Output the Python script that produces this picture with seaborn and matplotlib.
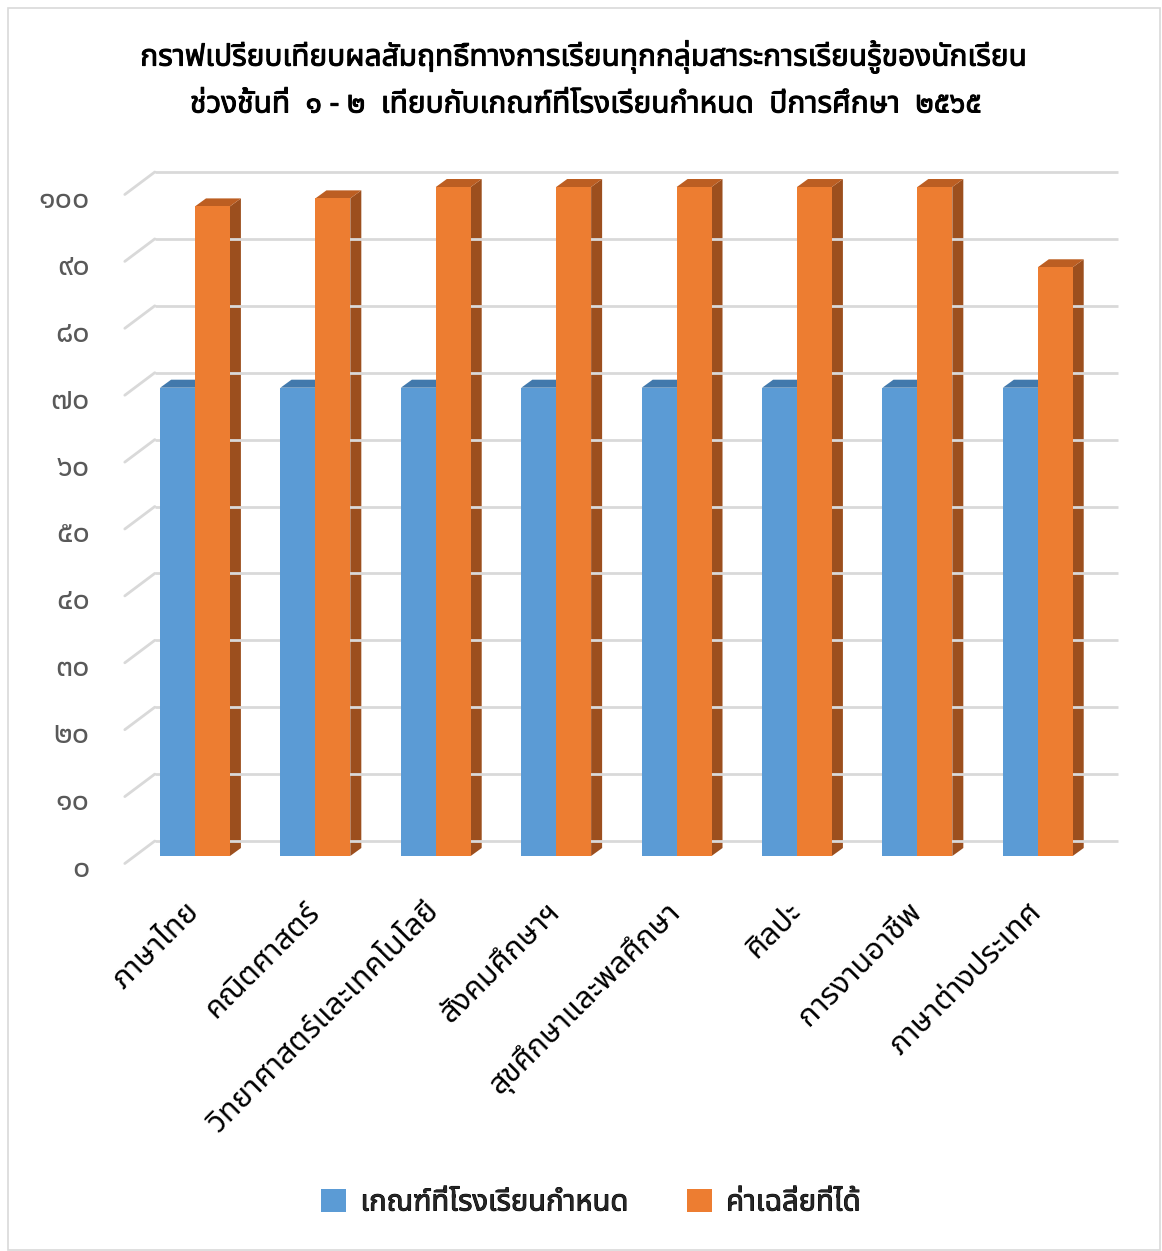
import pandas as pd
import matplotlib
matplotlib.use('Agg')
import matplotlib.pyplot as plt
import matplotlib.transforms as mtransforms
import matplotlib.patheffects as pe
from matplotlib.patches import Polygon, Rectangle
from matplotlib import font_manager
from matplotlib.ft2font import FT2Font
import seaborn as sns

# data
subjects = ['ภาษาไทย', 'คณิตศาสตร์', 'วิทยาศาสตร์และเทคโนโลยี', 'สังคมศึกษาฯ',
            'สุขศึกษาและพลศึกษา', 'ศิลปะ', 'การงานอาชีพ', 'ภาษาต่างประเทศ']
criteria = [70, 70, 70, 70, 70, 70, 70, 70]
average = [97.1, 98.3, 100, 100, 100, 100, 100, 88.0]
series_names = ['เกณฑ์ที่โรงเรียนกำหนด', 'ค่าเฉลี่ยที่ได้']
y_ticks = [0, 10, 20, 30, 40, 50, 60, 70, 80, 90, 100]
y_tick_labels = ['๐', '๑๐', '๒๐', '๓๐', '๔๐', '๕๐', '๖๐', '๗๐', '๘๐', '๙๐', '๑๐๐']
title_lines = ['กราฟเปรียบเทียบผลสัมฤทธิ์ทางการเรียนทุกกลุ่มสาระการเรียนรู้ของนักเรียน',
               'ช่วงชั้นที่  ๑ - ๒  เทียบกับเกณฑ์ที่โรงเรียนกำหนด  ปีการศึกษา  ๒๕๖๕']

front_colors = ['#5B9BD5', '#ED7D31']
top_colors = ['#4279AC', '#BC5E22']
side_colors = ['#3A6A96', '#9C4F1E']


def pick_thai_font():
    prefer = ['Noto Sans Thai', 'Noto Sans Thai UI', 'Sarabun', 'TH Sarabun New', 'Leelawadee UI',
              'Tahoma', 'Loma', 'Garuda', 'Waree', 'Umpush', 'Sawasdee', 'Kinnari', 'Norasi',
              'Laksaman', 'Noto Serif Thai', 'Noto Looped Thai']
    found = {}
    for fe in font_manager.fontManager.ttflist:
        try:
            ft = FT2Font(fe.fname)
            if ft.get_char_index(0x0E01) and ft.get_char_index(0x0E51):
                found.setdefault(fe.name, []).append(fe.weight)
        except Exception:
            pass
    for p in prefer:
        if p in found:
            return p, found[p]
    if found:
        name = sorted(found)[0]
        return name, found[name]
    return 'DejaVu Sans', [400, 700]


thai_font, weights = pick_thai_font()

sns.set_style('white')
plt.rcParams['font.family'] = [thai_font, 'DejaVu Sans']

W, H = 1162, 1251
fig = plt.figure(figsize=(W / 100, H / 100), dpi=100)

# axes = front plane of the bars
x0, x1 = 134.8, 1098.0
y0, y1 = 856.0, 187.0
ax = fig.add_axes([x0 / W, (H - y0) / H, (x1 - x0) / W, (y0 - y1) / H])
ax.set_facecolor('none')

df = pd.DataFrame({
    'subject': subjects * 2,
    'value': criteria + average,
    'series': [series_names[0]] * len(subjects) + [series_names[1]] * len(subjects),
})
sns.barplot(data=df, x='subject', y='value', hue='series', palette=front_colors,
            width=0.58, saturation=1, ax=ax, legend=False, zorder=3,
            edgecolor='none', linewidth=0)
ax.set_xlim(-0.5, len(subjects) - 0.5)
ax.set_ylim(0, 100)
for s in ax.spines.values():
    s.set_visible(False)
ax.set_xlabel('')
ax.set_ylabel('')
ax.set_yticks([])

# back wall grid and side diagonals
back = mtransforms.ScaledTranslation(20 / 100, 15 / 100, fig.dpi_scale_trans)
grid_color = '#D9D9D9'
xl = ax.get_xlim()
for v in y_ticks:
    ax.plot(xl, [v, v], transform=ax.transData + back, color=grid_color, lw=2.0,
            clip_on=False, zorder=1, solid_capstyle='butt')
    px, py = ax.transData.transform((xl[0], v))
    fig.add_artist(plt.Line2D([(px - 10) / W, (px + 20) / W], [(py - 7.5) / H, (py + 15) / H],
                              color=grid_color, lw=2.0, zorder=1))
    ax.text(0, v, y_tick_labels[y_ticks.index(v)],
            transform=mtransforms.blended_transform_factory(ax.transAxes, ax.transData)
            + mtransforms.ScaledTranslation(-45 / 100, -13 / 100, fig.dpi_scale_trans),
            ha='right', va='center', fontsize=22, color='#595959')

# 3d faces of each bar
dx, dy = 11, 8
n = len(subjects)
bars = [p for p in ax.patches if isinstance(p, Rectangle)]
for k, p in enumerate(bars):
    s = k // n
    bx, by, bw, bh = p.get_x(), p.get_y(), p.get_width(), p.get_height()
    (ax_, ay_), (bx_, byy) = ax.transData.transform([(bx, by + bh), (bx + bw, by + bh)])
    _, (cx_, cy_) = ax.transData.transform([(bx, by), (bx + bw, by)])
    top = [(ax_, ay_), (bx_, byy), (bx_ + dx, byy + dy), (ax_ + dx, ay_ + dy)]
    side = [(bx_, byy), (bx_ + dx, byy + dy), (cx_ + dx, cy_ + dy), (cx_, cy_)]
    fig.add_artist(Polygon([(u / W, w / H) for u, w in side], closed=True,
                           facecolor=side_colors[s], edgecolor='none', zorder=2 + 2 * s))
    fig.add_artist(Polygon([(u / W, w / H) for u, w in top], closed=True,
                           facecolor=top_colors[s], edgecolor='none', zorder=2 + 2 * s))

ax.set_zorder(5)
ax.tick_params(axis='x', length=0, pad=37)
for lab in ax.get_xticklabels():
    lab.set_rotation(45)
    lab.set_ha('right')
    lab.set_va('center')
    lab.set_rotation_mode('anchor')
    lab.set_fontsize(22)
    lab.set_color('black')

# font has no bold face, thicken title and legend text with a stroke
bold = 'bold' if max(weights) >= 600 else 'normal'
heavy = [] if bold == 'bold' else [pe.withStroke(linewidth=0.7, foreground='black')]
fig.text(0.502, (H - 57) / H, title_lines[0], ha='center', va='center', fontsize=21.5,
         fontweight=bold, color='black', path_effects=heavy)
fig.text(0.504, (H - 105) / H, title_lines[1], ha='center', va='center', fontsize=21.5,
         fontweight=bold, color='black', path_effects=heavy)

handles = [Rectangle((0, 0), 1, 1, facecolor=c, edgecolor='none') for c in front_colors]
leg = fig.legend(handles, series_names, loc='center', bbox_to_anchor=(591 / W, (H - 1203) / H),
                 ncol=2, frameon=False, handlelength=0.85, handleheight=0.85,
                 handletextpad=0.5, columnspacing=2.0, prop={'weight': bold, 'size': 21})
for t in leg.get_texts():
    t.set_path_effects(heavy)

fig.add_artist(Rectangle((8 / W, 1 / H), 1152 / W, 1242 / H, transform=fig.transFigure,
                         facecolor='none', edgecolor='#D9D9D9', lw=1.2, zorder=0))

fig.savefig('out.png', dpi=100)
